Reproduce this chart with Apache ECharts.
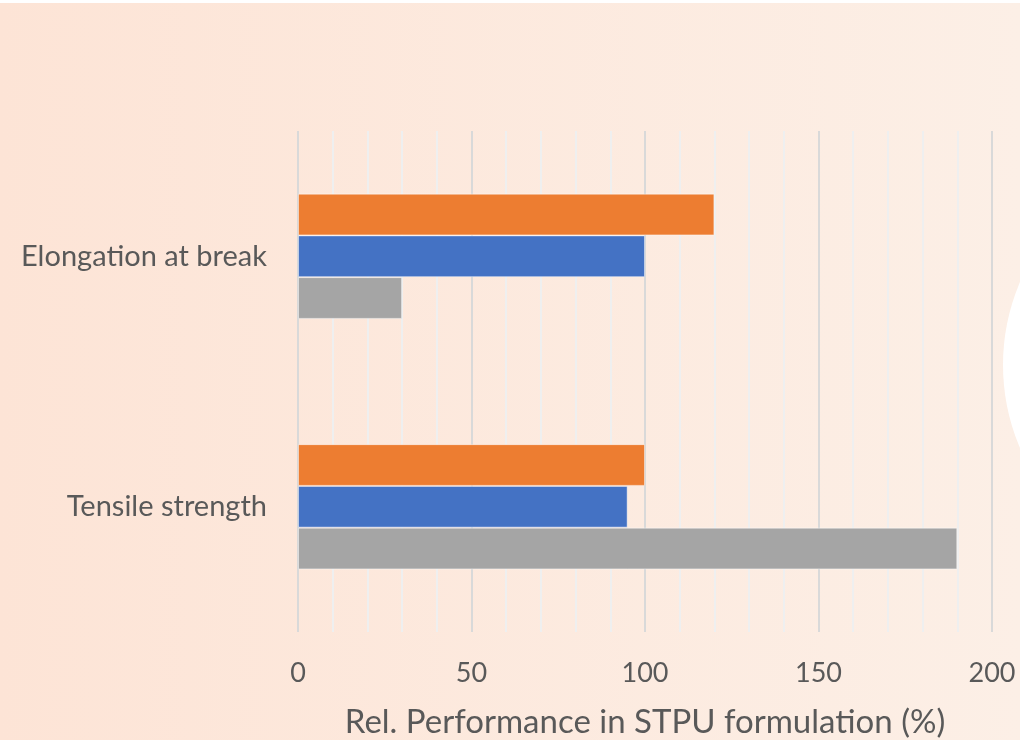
<!DOCTYPE html>
<html><head><meta charset="utf-8">
<script src="https://cdn.jsdelivr.net/npm/echarts@6/dist/echarts.min.js"></script>
<style>html,body{margin:0;padding:0;background:#fff;overflow:hidden}#c{width:1020px;height:740px}</style>
</head><body><div id="c"></div>
<script>
const categories = ['Tensile strength', 'Elongation at break'];
const seriesNames = ['Series 1', 'Series 2', 'Series 3'];
const orangeValues = [100, 120];
const blueValues = [95, 100];
const grayValues = [190, 30];
const xTicks = [0, 50, 100, 150, 200];

const chart = echarts.init(document.getElementById('c'));
const font = 'Lato, "Open Sans", sans-serif';
const border = {borderColor: 'rgba(255,255,255,0.45)', borderWidth: 1};
chart.setOption({
  backgroundColor: {type: 'linear', x: 0, y: 0, x2: 1, y2: 0,
    colorStops: [{offset: 0, color: '#fde4d6'}, {offset: 1, color: '#fcefe6'}]},
  animation: false,
  graphic: [
    {type: 'rect', shape: {x: 0, y: 0, width: 1020, height: 3}, style: {fill: '#ffffff'}, z: 100},
    {type: 'circle', shape: {cx: 1214, cy: 365, r: 211}, style: {fill: '#ffffff'}, z: -1, silent: true}
  ],
  grid: {left: 298, right: 28, top: 131, bottom: 108, containLabel: false, outerBoundsMode: 'none'},
  xAxis: {
    type: 'value', min: xTicks[0], max: xTicks[xTicks.length - 1], interval: 50,
    axisLine: {show: false}, axisTick: {show: false},
    axisLabel: {color: '#595959', fontSize: 27, fontFamily: font, margin: 28},
    splitLine: {show: true, lineStyle: {color: '#d9d9d9', width: 2}},
    minorTick: {show: false, splitNumber: 5},
    minorSplitLine: {show: true, lineStyle: {color: '#efefef', width: 2}},
    name: 'Rel. Performance in STPU formulation (%)', nameLocation: 'middle', nameGap: 74,
    nameTextStyle: {color: '#595959', fontSize: 33, fontFamily: font}
  },
  yAxis: {
    type: 'category', data: categories,
    axisLine: {show: false}, axisTick: {show: false},
    axisLabel: {color: '#595959', fontSize: 29, fontFamily: font, margin: 31}
  },
  series: [
    {name: seriesNames[0], type: 'bar', data: orangeValues, itemStyle: Object.assign({color: '#ed7d31'}, border), barGap: '0%', barCategoryGap: '50%'},
    {name: seriesNames[1], type: 'bar', data: blueValues, itemStyle: Object.assign({color: '#4472c4'}, border), barGap: '0%', barCategoryGap: '50%'},
    {name: seriesNames[2], type: 'bar', data: grayValues, itemStyle: Object.assign({color: '#a5a5a5'}, border), barGap: '0%', barCategoryGap: '50%'}
  ]
});
</script></body></html>
